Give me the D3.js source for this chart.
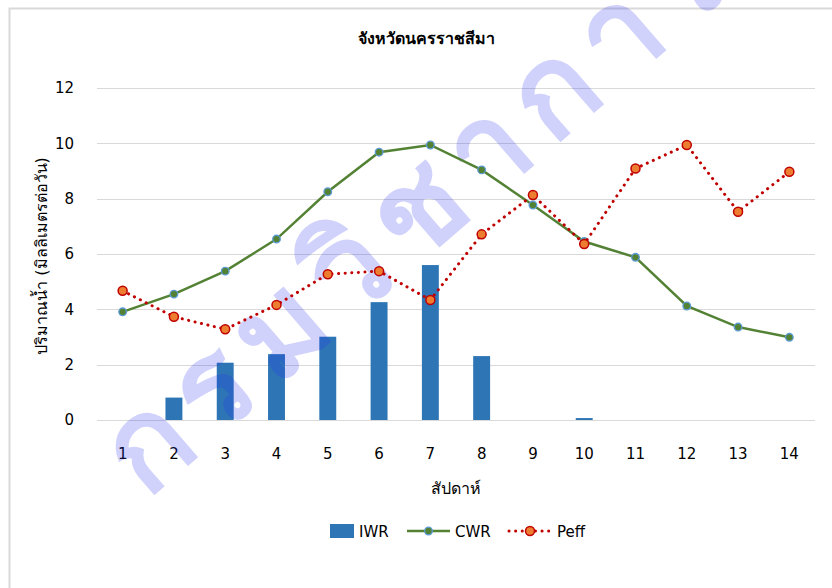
<!DOCTYPE html>
<html>
<head>
<meta charset="utf-8">
<script src="https://cdn.jsdelivr.net/npm/d3@7"></script>
<style>
  html, body { margin: 0; padding: 0; background: #fff; }
  svg { display: block; }
  text { font-family: Tahoma, "DejaVu Sans", "Noto Sans", sans-serif; fill: #000; }
</style>
</head>
<body>
<svg id="chart" width="832" height="588"></svg>
<script>
const weeks = [1, 2, 3, 4, 5, 6, 7, 8, 9, 10, 11, 12, 13, 14];
const iwr  = [0, 0.81, 2.07, 2.38, 3.01, 4.26, 5.6, 2.31, 0, 0.07, 0, 0, 0, 0];
const cwr  = [3.91, 4.55, 5.38, 6.54, 8.25, 9.68, 9.94, 9.04, 7.77, 6.45, 5.88, 4.12, 3.36, 2.99];
const peff = [4.67, 3.73, 3.28, 4.16, 5.27, 5.38, 4.34, 6.71, 8.13, 6.36, 9.09, 9.94, 7.53, 8.97];
const yTicks = [0, 2, 4, 6, 8, 10, 12];
const title = "จังหวัดนครราชสีมา";
const xTitle = "สัปดาห์";
const yTitle = "ปริมาณน้ำ (มิลลิเมตรต่อวัน)";
const seriesNames = ["IWR", "CWR", "Peff"];
const watermark = "กรมวิชาการเกษตร";

const svg = d3.select("#chart");
const pLeft = 97, pRight = 815, pTop = 88, pBottom = 420;

// outer border
svg.append("rect").attr("x", 9.5).attr("y", 8.5).attr("width", 840).attr("height", 600)
  .attr("fill", "none").attr("stroke", "#d9d9d9").attr("stroke-width", 2);

const x = d3.scaleBand().domain(weeks).range([pLeft, pRight]).paddingInner(0.67).paddingOuter(0.335);
const xc = d3.scaleBand().domain(weeks).range([pLeft, pRight]);
const y = d3.scaleLinear().domain([0, 12]).range([pBottom, pTop]);

// gridlines
svg.append("g").selectAll("line").data(yTicks).join("line")
  .attr("x1", pLeft).attr("x2", pRight)
  .attr("y1", d => Math.round(y(d)) + 0.5).attr("y2", d => Math.round(y(d)) + 0.5)
  .attr("stroke", "#d9d9d9").attr("stroke-width", 1);

// y axis labels
const yAxis = d3.axisLeft(y).tickValues(yTicks).tickSize(0).tickPadding(0).tickFormat(d3.format("d"));
const gy = svg.append("g").attr("transform", `translate(74,0)`).call(yAxis);
gy.select(".domain").remove();
gy.selectAll("text").attr("font-size", 15).attr("fill", "#000")
  .style("font-family", 'Tahoma, "DejaVu Sans", sans-serif');

// x axis labels
const xAxis = d3.axisBottom(xc).tickSize(0).tickPadding(0);
const gx = svg.append("g").attr("transform", `translate(0,${pBottom + 28})`).call(xAxis);
gx.select(".domain").remove();
gx.selectAll("text").attr("font-size", 15).attr("fill", "#000")
  .style("font-family", 'Tahoma, "DejaVu Sans", sans-serif');

// bars
svg.append("g").selectAll("rect").data(weeks.map((w, i) => ({ w, v: iwr[i] }))).join("rect")
  .attr("x", d => x(d.w)).attr("width", x.bandwidth())
  .attr("y", d => y(d.v)).attr("height", d => y(0) - y(d.v))
  .attr("fill", "#2e75b6");

// watermark
svg.append("text").text(watermark)
  .attr("transform", "translate(146,500) rotate(-41)")
  .attr("font-size", 124).attr("font-weight", "bold").attr("letter-spacing", 15)
  .style("fill", "rgb(40,50,240)").style("fill-opacity", 0.22);

const cx = w => xc(w) + xc.bandwidth() / 2;

const lineGen = d3.line().x(d => cx(d.w)).y(d => y(d.v));
const cwrData = weeks.map((w, i) => ({ w, v: cwr[i] }));
const peffData = weeks.map((w, i) => ({ w, v: peff[i] }));

svg.append("path").datum(cwrData).attr("d", lineGen)
  .attr("fill", "none").attr("stroke", "#548235").attr("stroke-width", 2.5);
svg.append("g").selectAll("circle").data(cwrData).join("circle")
  .attr("cx", d => cx(d.w)).attr("cy", d => y(d.v)).attr("r", 3.8)
  .attr("fill", "#548235").attr("stroke", "#5b9bd5").attr("stroke-width", 1.3);

svg.append("path").datum(peffData).attr("d", lineGen)
  .attr("fill", "none").attr("stroke", "#c00000").attr("stroke-width", 3)
  .attr("stroke-dasharray", "0.1 6.5").attr("stroke-linecap", "round");
svg.append("g").selectAll("circle").data(peffData).join("circle")
  .attr("cx", d => cx(d.w)).attr("cy", d => y(d.v)).attr("r", 4.5)
  .attr("fill", "#ed7d31").attr("stroke", "#c00000").attr("stroke-width", 1.5);

// title
svg.append("text").text(title).attr("x", 426).attr("y", 44).attr("text-anchor", "middle")
  .attr("font-size", 16).attr("font-weight", "bold");

// x title
svg.append("text").text(xTitle).attr("x", 456).attr("y", 494).attr("text-anchor", "middle")
  .attr("font-size", 16);

// y title
svg.append("text").text(yTitle).attr("transform", "translate(47,256) rotate(-90)")
  .attr("text-anchor", "middle").attr("font-size", 16);

// legend
const lg = svg.append("g");
lg.append("rect").attr("x", 330).attr("y", 524).attr("width", 24).attr("height", 14).attr("fill", "#2e75b6");
lg.append("text").text(seriesNames[0]).attr("x", 359).attr("y", 537).attr("font-size", 15);
lg.append("line").attr("x1", 407).attr("x2", 450).attr("y1", 531).attr("y2", 531)
  .attr("stroke", "#548235").attr("stroke-width", 2.5);
lg.append("circle").attr("cx", 428.5).attr("cy", 531).attr("r", 3.8)
  .attr("fill", "#548235").attr("stroke", "#5b9bd5").attr("stroke-width", 1.3);
lg.append("text").text(seriesNames[1]).attr("x", 455).attr("y", 537).attr("font-size", 15);
lg.append("line").attr("x1", 509).attr("x2", 552).attr("y1", 531).attr("y2", 531)
  .attr("stroke", "#c00000").attr("stroke-width", 3)
  .attr("stroke-dasharray", "0.1 6.5").attr("stroke-linecap", "round");
lg.append("circle").attr("cx", 530).attr("cy", 531).attr("r", 4.5)
  .attr("fill", "#ed7d31").attr("stroke", "#c00000").attr("stroke-width", 1.5);
lg.append("text").text(seriesNames[2]).attr("x", 557).attr("y", 537).attr("font-size", 15);
</script>
</body>
</html>
